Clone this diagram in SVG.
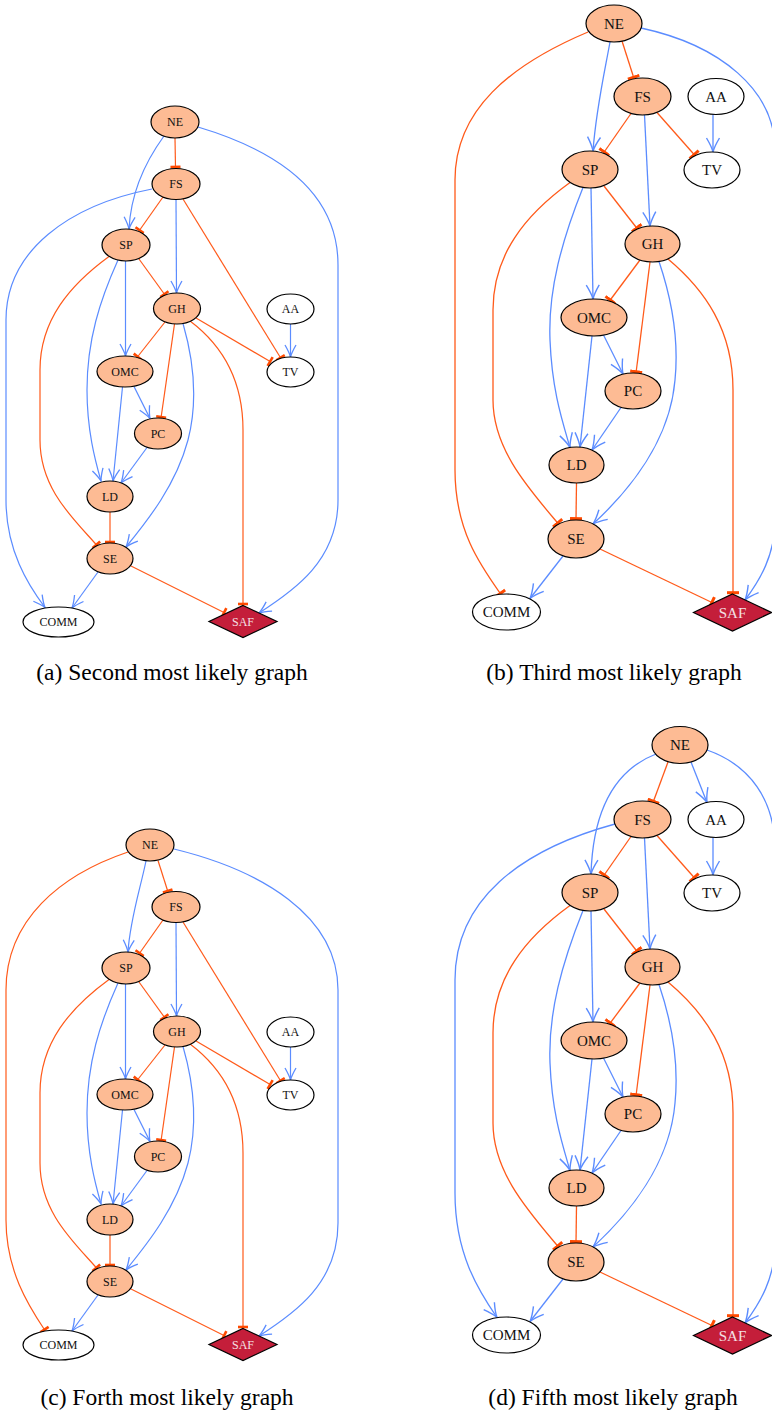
<svg xmlns="http://www.w3.org/2000/svg" width="772" height="1415" viewBox="0 0 772 1415">
<style>
.n ellipse{fill:#fdbb94;stroke:#000;stroke-width:1.2}
.w ellipse{fill:#fff;stroke:#000;stroke-width:1.2}
.saf polygon{fill:#c41e3a;stroke:#000;stroke-width:1.2}
text{font-family:"Liberation Serif","Times New Roman",serif;text-anchor:middle;dominant-baseline:central;fill:#111}
.s text{font-size:12px}
.l text{font-size:15px}
.saf text{fill:#f4e0e4}
.cap{font-size:23.5px;dominant-baseline:alphabetic;fill:#000}
.bs{stroke:#5b8cff;fill:none;stroke-width:1.2;marker-end:url(#arrS)}
.os{stroke:#ff5a1a;fill:none;stroke-width:1.2;marker-end:url(#teeS)}
.bl{stroke:#5b8cff;fill:none;stroke-width:1.3;marker-end:url(#arrL)}
.ol{stroke:#ff5a1a;fill:none;stroke-width:1.3;marker-end:url(#teeL)}
</style>
<defs>
<marker id="arrS" viewBox="-14 -7 15 14" markerWidth="15" markerHeight="14" refX="0" refY="0" orient="auto" markerUnits="userSpaceOnUse"><path d="M-12,-5.5 Q-4.5,-1.2 0,0 Q-4.5,1.2 -12,5.5" fill="none" stroke="#5b8cff" stroke-width="1.3"/></marker>
<marker id="arrL" viewBox="-16 -8 17 16" markerWidth="17" markerHeight="16" refX="0" refY="0" orient="auto" markerUnits="userSpaceOnUse"><path d="M-14,-6.5 Q-5.5,-1.4 0,0 Q-5.5,1.4 -14,6.5" fill="none" stroke="#5b8cff" stroke-width="1.4"/></marker>
<marker id="teeS" viewBox="-3 -7 6 14" markerWidth="6" markerHeight="14" refX="0" refY="0" orient="auto" markerUnits="userSpaceOnUse"><path d="M-1,-5 L-1,5" stroke="#ff4a00" stroke-width="2.6"/></marker>
<marker id="teeL" viewBox="-3 -8 6 16" markerWidth="6" markerHeight="16" refX="0" refY="0" orient="auto" markerUnits="userSpaceOnUse"><path d="M-1.3,-6 L-1.3,6" stroke="#ff4a00" stroke-width="3"/></marker>
</defs>
<rect width="772" height="1415" fill="#fff"/>

<!-- Panel (a) -->
<g id="panel-a">
<g id="a-edges">
<path class="os" d="M175,138 L175.5,168"/>
<path class="bs" d="M164,136 C148,158 131,190 129,229"/>
<path class="bs" d="M198,127 C275,150 338,190 338,265 L338,500 C338,560 295,590 259,613"/>
<path class="os" d="M163,197 L139,231"/>
<path class="bs" d="M176,199.5 L176.5,293"/>
<path class="os" d="M183,199 L281,358.5"/>
<path class="bs" d="M152,189 C70,205 6,250 6,320 L6,500 C6,550 28,585 45,607.5"/>
<path class="os" d="M139,259 L165,295"/>
<path class="bs" d="M125.5,261 L125.5,356"/>
<path class="bs" d="M118,260 C100,300 87,340 87,390 C87,430 95,460 101,481"/>
<path class="os" d="M109,256.5 C70,285 40,320 40,370 L40,440 C40,490 75,520 97,545.5"/>
<path class="os" d="M165,322 L137,357.5"/>
<path class="os" d="M174.5,324 L161,418"/>
<path class="bs" d="M183,323.5 C195,365 197,405 188,440 C176,485 148,520 126,547"/>
<path class="os" d="M196,318 L271,362"/>
<path class="os" d="M190,321 C222,345 243,380 243,430 L243,605"/>
<path class="bs" d="M134,386.5 L150,418.5"/>
<path class="bs" d="M122.5,387 L113,481"/>
<path class="bs" d="M147,447.5 L121,483"/>
<path class="os" d="M110,512 L110,543"/>
<path class="bs" d="M98,572 L72,608"/>
<path class="os" d="M131,566 L225,613"/>
<path class="bs" d="M290.5,324 L290.5,357"/>
</g>
<g id="a-NE" class="n s"><ellipse cx="175" cy="122" rx="24" ry="16"/><text x="175" y="122">NE</text></g>
<g id="a-FS" class="n s"><ellipse cx="176" cy="184" rx="24" ry="15.5"/><text x="176" y="184">FS</text></g>
<g id="a-SP" class="n s"><ellipse cx="126" cy="245" rx="24" ry="16"/><text x="126" y="245">SP</text></g>
<g id="a-GH" class="n s"><ellipse cx="177" cy="308.5" rx="23.5" ry="15.5"/><text x="177" y="308.5">GH</text></g>
<g id="a-AA" class="w s"><ellipse cx="290.5" cy="309" rx="23.5" ry="15"/><text x="290.5" y="309">AA</text></g>
<g id="a-TV" class="w s"><ellipse cx="290.5" cy="372" rx="23.5" ry="15"/><text x="290.5" y="372">TV</text></g>
<g id="a-OMC" class="n s"><ellipse cx="125" cy="371.5" rx="28" ry="15.5"/><text x="125" y="371.5">OMC</text></g>
<g id="a-PC" class="n s"><ellipse cx="158" cy="433.5" rx="23.5" ry="15.5"/><text x="158" y="433.5">PC</text></g>
<g id="a-LD" class="n s"><ellipse cx="110" cy="496.5" rx="23" ry="15.5"/><text x="110" y="496.5">LD</text></g>
<g id="a-SE" class="n s"><ellipse cx="110" cy="558.5" rx="23" ry="15.5"/><text x="110" y="558.5">SE</text></g>
<g id="a-COMM" class="w s"><ellipse cx="58.5" cy="622" rx="35.5" ry="15"/><text x="58.5" y="622">COMM</text></g>
<g id="a-SAF" class="saf s"><polygon points="243,605.5 277,621.5 243,637.5 209,621.5"/><text x="243" y="621.5">SAF</text></g>
<text class="cap" x="172" y="680">(a) Second most likely graph</text>
</g>

<!-- Panel (b) -->
<g id="panel-b">
<g id="b-edges">
<path class="ol" d="M622,41 L634,78.5"/>
<path class="bl" d="M610,42 C604,75 596,110 593,151"/>
<path class="ol" d="M588,32 C510,65 455,110 455,180 L455,470 C455,530 480,565 501,594.5"/>
<path class="bl" d="M641,28 C720,45 775,90 775,150 L775,520 C775,555 760,580 745,600"/>
<path class="ol" d="M631,113.5 L603.5,153"/>
<path class="bl" d="M644.5,115 L650,226"/>
<path class="ol" d="M657,112.5 L695,155.5"/>
<path class="bl" d="M713,114.5 L713,152"/>
<path class="ol" d="M604,186 L637.5,229"/>
<path class="bl" d="M591,188 L593,299"/>
<path class="bl" d="M583,187.5 C562,240 548,290 550,340 C552,390 562,420 570,447.5"/>
<path class="ol" d="M570,182.5 C525,215 493,255 493,310 L493,400 C493,450 530,490 558.5,524"/>
<path class="ol" d="M640,260 L609.5,301"/>
<path class="ol" d="M650,262 L636,373"/>
<path class="bl" d="M659,261.5 C672,300 679,340 675,380 C670,440 630,490 593,524"/>
<path class="ol" d="M668,259 C705,290 733,330 733,390 L733,594"/>
<path class="bl" d="M603.5,335 L623,374"/>
<path class="bl" d="M592,336 L580,447"/>
<path class="bl" d="M621,407.5 L592,450"/>
<path class="ol" d="M576.5,483 L576,520"/>
<path class="bl" d="M563,556 L530,598.5"/>
<path class="ol" d="M600,549 L713,603"/>
</g>
<g id="b-NE" class="n l"><ellipse cx="614" cy="23.5" rx="28" ry="18.5"/><text x="614" y="23.5">NE</text></g>
<g id="b-FS" class="n l"><ellipse cx="642.5" cy="96.5" rx="28.5" ry="18.5"/><text x="642.5" y="96.5">FS</text></g>
<g id="b-AA" class="w l"><ellipse cx="716" cy="96.5" rx="28" ry="18"/><text x="716" y="96.5">AA</text></g>
<g id="b-SP" class="n l"><ellipse cx="590" cy="169.5" rx="28" ry="18.5"/><text x="590" y="169.5">SP</text></g>
<g id="b-TV" class="w l"><ellipse cx="712" cy="170" rx="28" ry="18"/><text x="712" y="170">TV</text></g>
<g id="b-GH" class="n l"><ellipse cx="652.5" cy="244" rx="27.5" ry="18"/><text x="652.5" y="244">GH</text></g>
<g id="b-OMC" class="n l"><ellipse cx="594" cy="317.5" rx="33" ry="18.5"/><text x="594" y="317.5">OMC</text></g>
<g id="b-PC" class="n l"><ellipse cx="633" cy="391" rx="28" ry="18"/><text x="633" y="391">PC</text></g>
<g id="b-LD" class="n l"><ellipse cx="576.5" cy="465" rx="27.5" ry="18"/><text x="576.5" y="465">LD</text></g>
<g id="b-SE" class="n l"><ellipse cx="576" cy="539" rx="28" ry="19"/><text x="576" y="539">SE</text></g>
<g id="b-COMM" class="w l"><ellipse cx="506.5" cy="612" rx="34" ry="18"/><text x="506.5" y="612">COMM</text></g>
<g id="b-SAF" class="saf l"><polygon points="732.5,594 771.5,612.5 732.5,631 693.5,612.5"/><text x="732.5" y="612.5">SAF</text></g>
<text class="cap" x="614" y="680">(b) Third most likely graph</text>
</g>

<!-- Panel (c) -->
<g id="panel-c" transform="translate(0,723)">
<g id="c-edges">
<path class="os" d="M158,137.5 L168,169"/>
<path class="bs" d="M146,138 C140,167 130,197 128,229"/>
<path class="os" d="M128,129 C60,152 6,197 6,267 L6,497 C6,547 28,582 45,607.5"/>
<path class="bs" d="M174,126 C260,147 338,192 338,267 L338,500 C338,560 295,590 259,613"/>
<path class="os" d="M163,197 L139,231"/>
<path class="bs" d="M176,199.5 L176.5,293"/>
<path class="os" d="M183,199 L281,358.5"/>
<path class="os" d="M139,259 L165,295"/>
<path class="bs" d="M125.5,261 L125.5,356"/>
<path class="bs" d="M118,260 C100,300 87,340 87,390 C87,430 95,460 101,481"/>
<path class="os" d="M109,256.5 C70,285 40,320 40,370 L40,440 C40,490 75,520 97,545.5"/>
<path class="os" d="M165,322 L137,357.5"/>
<path class="os" d="M174.5,324 L161,418"/>
<path class="bs" d="M183,323.5 C195,365 197,405 188,440 C176,485 148,520 126,547"/>
<path class="os" d="M196,318 L271,362"/>
<path class="os" d="M190,321 C222,345 243,380 243,430 L243,605"/>
<path class="bs" d="M134,386.5 L150,418.5"/>
<path class="bs" d="M122.5,387 L113,481"/>
<path class="bs" d="M147,447.5 L121,483"/>
<path class="os" d="M110,512 L110,543"/>
<path class="bs" d="M98,572 L72,608"/>
<path class="os" d="M131,566 L225,613"/>
<path class="bs" d="M290.5,324 L290.5,357"/>
</g>
<g id="c-NE" class="n s"><ellipse cx="150" cy="122" rx="24" ry="16"/><text x="150" y="122">NE</text></g>
<g id="c-FS" class="n s"><ellipse cx="176" cy="184" rx="24" ry="15.5"/><text x="176" y="184">FS</text></g>
<g id="c-SP" class="n s"><ellipse cx="126" cy="245" rx="24" ry="16"/><text x="126" y="245">SP</text></g>
<g id="c-GH" class="n s"><ellipse cx="177" cy="308.5" rx="23.5" ry="15.5"/><text x="177" y="308.5">GH</text></g>
<g id="c-AA" class="w s"><ellipse cx="290.5" cy="309" rx="23.5" ry="15"/><text x="290.5" y="309">AA</text></g>
<g id="c-TV" class="w s"><ellipse cx="290.5" cy="372" rx="23.5" ry="15"/><text x="290.5" y="372">TV</text></g>
<g id="c-OMC" class="n s"><ellipse cx="125" cy="371.5" rx="28" ry="15.5"/><text x="125" y="371.5">OMC</text></g>
<g id="c-PC" class="n s"><ellipse cx="158" cy="433.5" rx="23.5" ry="15.5"/><text x="158" y="433.5">PC</text></g>
<g id="c-LD" class="n s"><ellipse cx="110" cy="496.5" rx="23" ry="15.5"/><text x="110" y="496.5">LD</text></g>
<g id="c-SE" class="n s"><ellipse cx="110" cy="558.5" rx="23" ry="15.5"/><text x="110" y="558.5">SE</text></g>
<g id="c-COMM" class="w s"><ellipse cx="58.5" cy="622" rx="35.5" ry="15"/><text x="58.5" y="622">COMM</text></g>
<g id="c-SAF" class="saf s"><polygon points="243,605.5 277,621.5 243,637.5 209,621.5"/><text x="243" y="621.5">SAF</text></g>
<text class="cap" x="167" y="682">(c) Forth most likely graph</text>
</g>

<!-- Panel (d) -->
<g id="panel-d" transform="translate(0,723)">
<g id="d-edges">
<path class="ol" d="M668,39 L653,79.5"/>
<path class="bl" d="M691,39 L707,79.5"/>
<path class="bl" d="M656,31 C615,47 593,87 591,151"/>
<path class="bl" d="M707,27 C750,42 775,77 775,127 L775,520 C775,555 760,580 745,600"/>
<path class="bl" d="M615,101 C520,127 455,177 455,257 L455,470 C455,530 478,567 497,594.5"/>
<path class="ol" d="M631,113.5 L603.5,153"/>
<path class="bl" d="M644.5,115 L650,226"/>
<path class="ol" d="M657,112.5 L695,155.5"/>
<path class="bl" d="M713,114.5 L713,152"/>
<path class="ol" d="M604,186 L637.5,229"/>
<path class="bl" d="M591,188 L593,299"/>
<path class="bl" d="M583,187.5 C562,240 548,290 550,340 C552,390 562,420 570,447.5"/>
<path class="ol" d="M570,182.5 C525,215 493,255 493,310 L493,400 C493,450 530,490 558.5,524"/>
<path class="ol" d="M640,260 L609.5,301"/>
<path class="ol" d="M650,262 L636,373"/>
<path class="bl" d="M659,261.5 C672,300 679,340 675,380 C670,440 630,490 593,524"/>
<path class="ol" d="M668,259 C705,290 733,330 733,390 L733,594"/>
<path class="bl" d="M603.5,335 L623,374"/>
<path class="bl" d="M592,336 L580,447"/>
<path class="bl" d="M621,407.5 L592,450"/>
<path class="ol" d="M576.5,483 L576,520"/>
<path class="bl" d="M563,556 L530,598.5"/>
<path class="ol" d="M600,549 L713,603"/>
</g>
<g id="d-NE" class="n l"><ellipse cx="680" cy="22" rx="28" ry="18.5"/><text x="680" y="22">NE</text></g>
<g id="d-FS" class="n l"><ellipse cx="642.5" cy="96.5" rx="28.5" ry="18.5"/><text x="642.5" y="96.5">FS</text></g>
<g id="d-AA" class="w l"><ellipse cx="716" cy="96.5" rx="28" ry="18"/><text x="716" y="96.5">AA</text></g>
<g id="d-SP" class="n l"><ellipse cx="590" cy="169.5" rx="28" ry="18.5"/><text x="590" y="169.5">SP</text></g>
<g id="d-TV" class="w l"><ellipse cx="712" cy="170" rx="28" ry="18"/><text x="712" y="170">TV</text></g>
<g id="d-GH" class="n l"><ellipse cx="652.5" cy="244" rx="27.5" ry="18"/><text x="652.5" y="244">GH</text></g>
<g id="d-OMC" class="n l"><ellipse cx="594" cy="317.5" rx="33" ry="18.5"/><text x="594" y="317.5">OMC</text></g>
<g id="d-PC" class="n l"><ellipse cx="633" cy="391" rx="28" ry="18"/><text x="633" y="391">PC</text></g>
<g id="d-LD" class="n l"><ellipse cx="576.5" cy="465" rx="27.5" ry="18"/><text x="576.5" y="465">LD</text></g>
<g id="d-SE" class="n l"><ellipse cx="576" cy="539" rx="28" ry="19"/><text x="576" y="539">SE</text></g>
<g id="d-COMM" class="w l"><ellipse cx="506.5" cy="612" rx="34" ry="18"/><text x="506.5" y="612">COMM</text></g>
<g id="d-SAF" class="saf l"><polygon points="732.5,594 771.5,612.5 732.5,631 693.5,612.5"/><text x="732.5" y="612.5">SAF</text></g>
<text class="cap" x="613" y="682">(d) Fifth most likely graph</text>
</g>
</svg>
